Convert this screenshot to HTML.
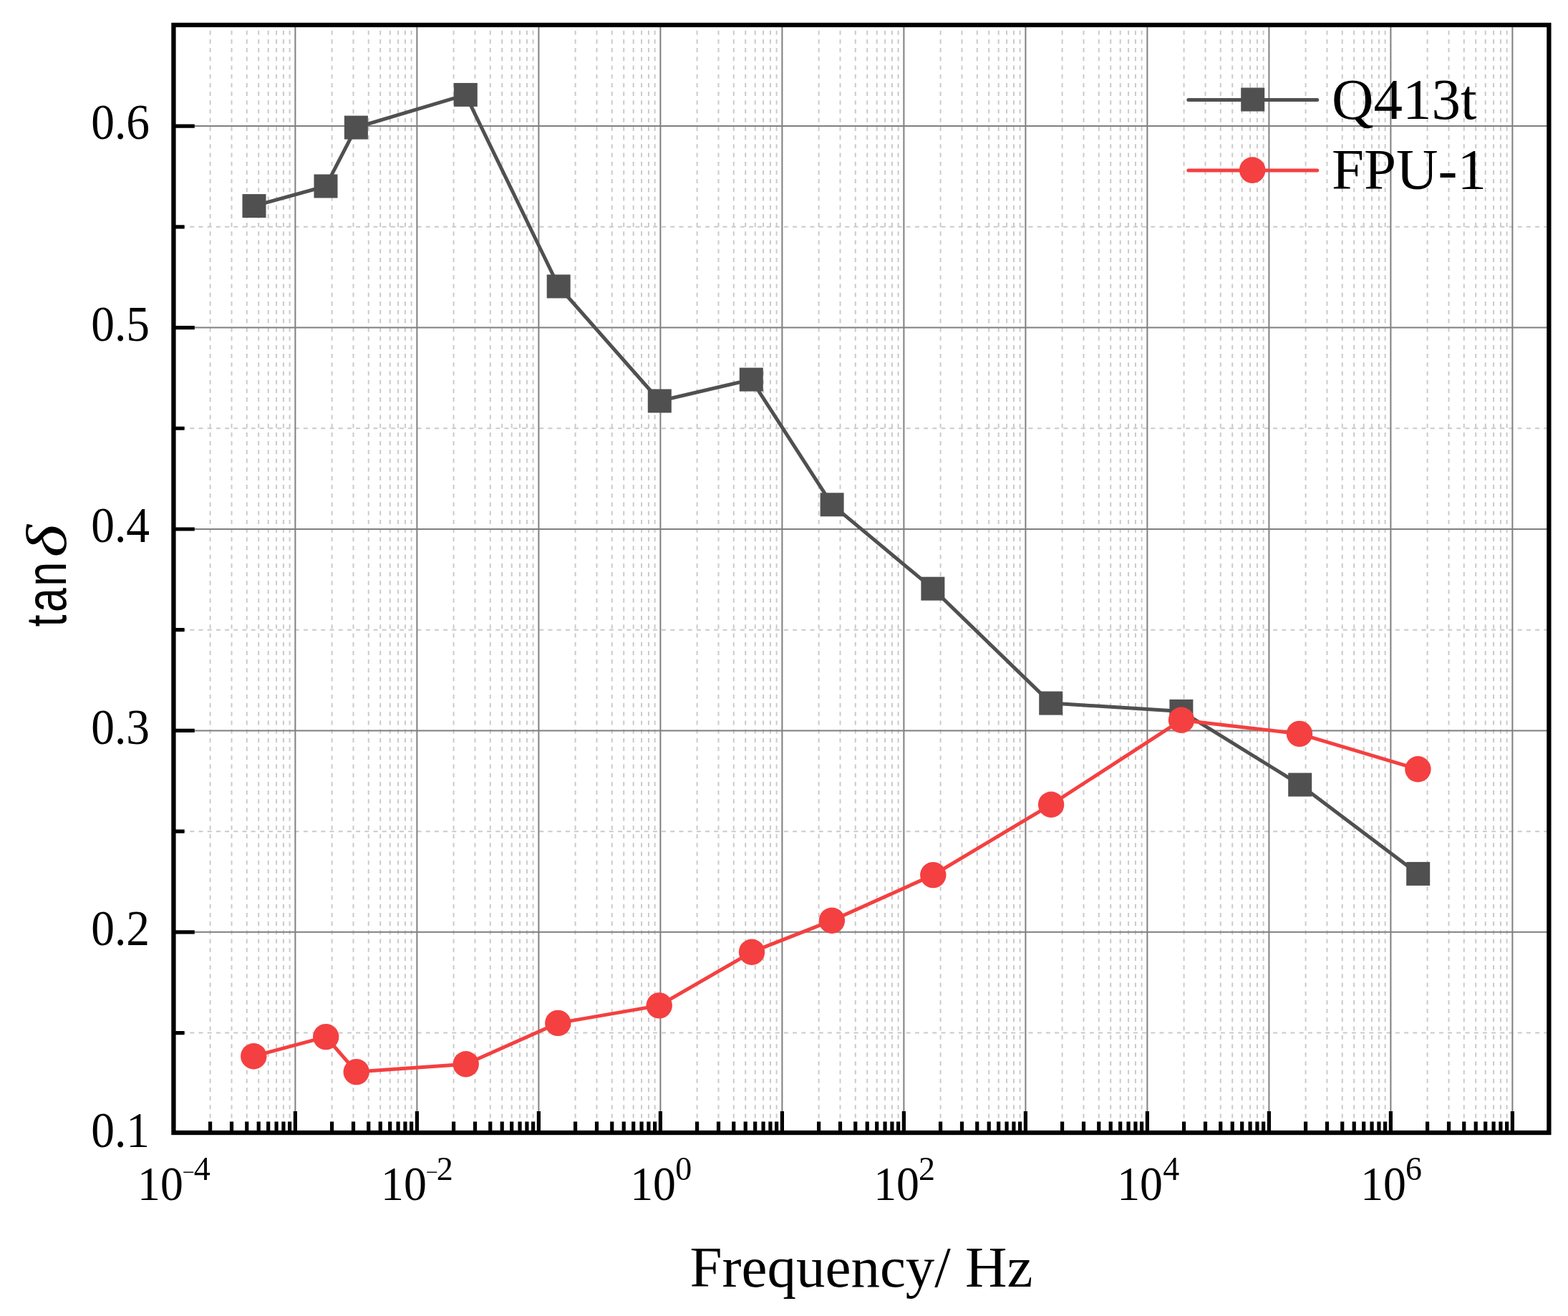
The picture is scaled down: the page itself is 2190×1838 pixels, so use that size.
<!DOCTYPE html>
<html><head><meta charset="utf-8"><title>tan delta vs frequency</title>
<style>html,body{margin:0;padding:0;background:#fff;}svg{display:block;}</style>
</head><body>
<svg width="2190" height="1838" viewBox="0 0 2190 1838">
<rect width="2190" height="1838" fill="#fff"/>
<path d="M293.58 42.7V1582.0 M323.51 42.7V1582.0 M344.75 42.7V1582.0 M361.22 42.7V1582.0 M374.69 42.7V1582.0 M386.07 42.7V1582.0 M395.93 42.7V1582.0 M404.62 42.7V1582.0 M463.58 42.7V1582.0 M493.51 42.7V1582.0 M514.75 42.7V1582.0 M531.22 42.7V1582.0 M544.69 42.7V1582.0 M556.07 42.7V1582.0 M565.93 42.7V1582.0 M574.62 42.7V1582.0 M633.58 42.7V1582.0 M663.51 42.7V1582.0 M684.75 42.7V1582.0 M701.22 42.7V1582.0 M714.69 42.7V1582.0 M726.07 42.7V1582.0 M735.93 42.7V1582.0 M744.62 42.7V1582.0 M803.58 42.7V1582.0 M833.51 42.7V1582.0 M854.75 42.7V1582.0 M871.22 42.7V1582.0 M884.69 42.7V1582.0 M896.07 42.7V1582.0 M905.93 42.7V1582.0 M914.62 42.7V1582.0 M973.58 42.7V1582.0 M1003.51 42.7V1582.0 M1024.75 42.7V1582.0 M1041.22 42.7V1582.0 M1054.69 42.7V1582.0 M1066.07 42.7V1582.0 M1075.93 42.7V1582.0 M1084.62 42.7V1582.0 M1143.58 42.7V1582.0 M1173.51 42.7V1582.0 M1194.75 42.7V1582.0 M1211.22 42.7V1582.0 M1224.69 42.7V1582.0 M1236.07 42.7V1582.0 M1245.93 42.7V1582.0 M1254.62 42.7V1582.0 M1313.58 42.7V1582.0 M1343.51 42.7V1582.0 M1364.75 42.7V1582.0 M1381.22 42.7V1582.0 M1394.69 42.7V1582.0 M1406.07 42.7V1582.0 M1415.93 42.7V1582.0 M1424.62 42.7V1582.0 M1483.58 42.7V1582.0 M1513.51 42.7V1582.0 M1534.75 42.7V1582.0 M1551.22 42.7V1582.0 M1564.69 42.7V1582.0 M1576.07 42.7V1582.0 M1585.93 42.7V1582.0 M1594.62 42.7V1582.0 M1653.58 42.7V1582.0 M1683.51 42.7V1582.0 M1704.75 42.7V1582.0 M1721.22 42.7V1582.0 M1734.69 42.7V1582.0 M1746.07 42.7V1582.0 M1755.93 42.7V1582.0 M1764.62 42.7V1582.0 M1823.58 42.7V1582.0 M1853.51 42.7V1582.0 M1874.75 42.7V1582.0 M1891.22 42.7V1582.0 M1904.69 42.7V1582.0 M1916.07 42.7V1582.0 M1925.93 42.7V1582.0 M1934.62 42.7V1582.0 M1993.58 42.7V1582.0 M2023.51 42.7V1582.0 M2044.75 42.7V1582.0 M2061.22 42.7V1582.0 M2074.69 42.7V1582.0 M2086.07 42.7V1582.0 M2095.93 42.7V1582.0 M2104.62 42.7V1582.0" stroke="#cacaca" stroke-width="2" stroke-dasharray="6 6.2" fill="none"/>
<path d="M240.9 1442.58H2163.4 M240.9 1161.14H2163.4 M240.9 879.70H2163.4 M240.9 598.26H2163.4 M240.9 316.82H2163.4" stroke="#cacaca" stroke-width="2" stroke-dasharray="6 6.2" fill="none"/>
<path d="M412.40 34.9V1582.0 M582.40 34.9V1582.0 M752.40 34.9V1582.0 M922.40 34.9V1582.0 M1092.40 34.9V1582.0 M1262.40 34.9V1582.0 M1432.40 34.9V1582.0 M1602.40 34.9V1582.0 M1772.40 34.9V1582.0 M1942.40 34.9V1582.0 M2112.40 34.9V1582.0 M242.4 1301.86H2163.4 M242.4 1020.42H2163.4 M242.4 738.98H2163.4 M242.4 457.54H2163.4 M242.4 176.10H2163.4" stroke="#7f7f7f" stroke-width="2" fill="none"/>
<rect x="242.45" y="34.9" width="1920.95" height="1547.10" fill="none" stroke="#000" stroke-width="6.3"/>
<path d="M412.40 1552V1582.0 M293.58 1566.6V1582.0 M323.51 1566.6V1582.0 M344.75 1566.6V1582.0 M361.22 1566.6V1582.0 M374.69 1566.6V1582.0 M386.07 1566.6V1582.0 M395.93 1566.6V1582.0 M404.62 1566.6V1582.0 M582.40 1552V1582.0 M463.58 1566.6V1582.0 M493.51 1566.6V1582.0 M514.75 1566.6V1582.0 M531.22 1566.6V1582.0 M544.69 1566.6V1582.0 M556.07 1566.6V1582.0 M565.93 1566.6V1582.0 M574.62 1566.6V1582.0 M752.40 1552V1582.0 M633.58 1566.6V1582.0 M663.51 1566.6V1582.0 M684.75 1566.6V1582.0 M701.22 1566.6V1582.0 M714.69 1566.6V1582.0 M726.07 1566.6V1582.0 M735.93 1566.6V1582.0 M744.62 1566.6V1582.0 M922.40 1552V1582.0 M803.58 1566.6V1582.0 M833.51 1566.6V1582.0 M854.75 1566.6V1582.0 M871.22 1566.6V1582.0 M884.69 1566.6V1582.0 M896.07 1566.6V1582.0 M905.93 1566.6V1582.0 M914.62 1566.6V1582.0 M1092.40 1552V1582.0 M973.58 1566.6V1582.0 M1003.51 1566.6V1582.0 M1024.75 1566.6V1582.0 M1041.22 1566.6V1582.0 M1054.69 1566.6V1582.0 M1066.07 1566.6V1582.0 M1075.93 1566.6V1582.0 M1084.62 1566.6V1582.0 M1262.40 1552V1582.0 M1143.58 1566.6V1582.0 M1173.51 1566.6V1582.0 M1194.75 1566.6V1582.0 M1211.22 1566.6V1582.0 M1224.69 1566.6V1582.0 M1236.07 1566.6V1582.0 M1245.93 1566.6V1582.0 M1254.62 1566.6V1582.0 M1432.40 1552V1582.0 M1313.58 1566.6V1582.0 M1343.51 1566.6V1582.0 M1364.75 1566.6V1582.0 M1381.22 1566.6V1582.0 M1394.69 1566.6V1582.0 M1406.07 1566.6V1582.0 M1415.93 1566.6V1582.0 M1424.62 1566.6V1582.0 M1602.40 1552V1582.0 M1483.58 1566.6V1582.0 M1513.51 1566.6V1582.0 M1534.75 1566.6V1582.0 M1551.22 1566.6V1582.0 M1564.69 1566.6V1582.0 M1576.07 1566.6V1582.0 M1585.93 1566.6V1582.0 M1594.62 1566.6V1582.0 M1772.40 1552V1582.0 M1653.58 1566.6V1582.0 M1683.51 1566.6V1582.0 M1704.75 1566.6V1582.0 M1721.22 1566.6V1582.0 M1734.69 1566.6V1582.0 M1746.07 1566.6V1582.0 M1755.93 1566.6V1582.0 M1764.62 1566.6V1582.0 M1942.40 1552V1582.0 M1823.58 1566.6V1582.0 M1853.51 1566.6V1582.0 M1874.75 1566.6V1582.0 M1891.22 1566.6V1582.0 M1904.69 1566.6V1582.0 M1916.07 1566.6V1582.0 M1925.93 1566.6V1582.0 M1934.62 1566.6V1582.0 M2112.40 1552V1582.0 M1993.58 1566.6V1582.0 M2023.51 1566.6V1582.0 M2044.75 1566.6V1582.0 M2061.22 1566.6V1582.0 M2074.69 1566.6V1582.0 M2086.07 1566.6V1582.0 M2095.93 1566.6V1582.0 M2104.62 1566.6V1582.0 M242.4 1301.86H271.8 M242.4 1020.42H271.8 M242.4 738.98H271.8 M242.4 457.54H271.8 M242.4 176.10H271.8 M242.4 1442.58H257.6 M242.4 1161.14H257.6 M242.4 879.70H257.6 M242.4 598.26H257.6 M242.4 316.82H257.6" stroke="#000" stroke-width="5.2" fill="none"/>
<polyline points="355,287.6 455,260 497.4,178.1 650.3,132.4 780.2,400 921.3,560 1049.3,530.1 1162.1,704.8 1302.9,822.2 1467.7,982.1 1649.9,993.4 1815.7,1096 1980.7,1220.4" fill="none" stroke="#505050" stroke-width="5" stroke-linejoin="round"/>
<g fill="#505050"><rect x="338.5" y="271.1" width="33" height="33"/><rect x="438.5" y="243.5" width="33" height="33"/><rect x="480.9" y="161.6" width="33" height="33"/><rect x="633.8" y="115.9" width="33" height="33"/><rect x="763.7" y="383.5" width="33" height="33"/><rect x="904.8" y="543.5" width="33" height="33"/><rect x="1032.8" y="513.6" width="33" height="33"/><rect x="1145.6" y="688.3" width="33" height="33"/><rect x="1286.4" y="805.7" width="33" height="33"/><rect x="1451.2" y="965.6" width="33" height="33"/><rect x="1633.4" y="976.9" width="33" height="33"/><rect x="1799.2" y="1079.5" width="33" height="33"/><rect x="1964.2" y="1203.9" width="33" height="33"/></g>
<polyline points="354.3,1475.2 455.2,1448.1 497.7,1497.1 650.7,1486.2 779.3,1428.9 920.7,1404.4 1050,1329.7 1161.9,1285.7 1303.3,1222.1 1468.1,1123.7 1650,1005.7 1815,1024.9 1980.4,1074.3" fill="none" stroke="#f44040" stroke-width="5" stroke-linejoin="round"/>
<g fill="#f44040"><circle cx="354.3" cy="1475.2" r="18.2"/><circle cx="455.2" cy="1448.1" r="18.2"/><circle cx="497.7" cy="1497.1" r="18.2"/><circle cx="650.7" cy="1486.2" r="18.2"/><circle cx="779.3" cy="1428.9" r="18.2"/><circle cx="920.7" cy="1404.4" r="18.2"/><circle cx="1050" cy="1329.7" r="18.2"/><circle cx="1161.9" cy="1285.7" r="18.2"/><circle cx="1303.3" cy="1222.1" r="18.2"/><circle cx="1468.1" cy="1123.7" r="18.2"/><circle cx="1650" cy="1005.7" r="18.2"/><circle cx="1815" cy="1024.9" r="18.2"/><circle cx="1980.4" cy="1074.3" r="18.2"/></g>
<path d="M1659.8 139.5H1839.7" stroke="#505050" stroke-width="5" stroke-linecap="round"/>
<rect x="1733.2" y="122.5" width="33" height="33" fill="#505050"/>
<path d="M1659.8 238H1839.7" stroke="#f44040" stroke-width="5" stroke-linecap="round"/>
<circle cx="1749.2" cy="237.6" r="18.3" fill="#f44040"/>
<g style="font-family:'Liberation Serif','Times New Roman',serif" fill="#000">
<text x="1860" y="165.6" font-size="81">Q413t</text>
<text x="1860" y="264.4" font-size="81">FPU-1</text>
<text x="1203" y="1797" font-size="81" text-anchor="middle">Frequency/ Hz</text>
<text transform="translate(127.2,1601.5) scale(0.95,1)" font-size="69">0.1</text>
<text transform="translate(127.2,1320.1) scale(0.95,1)" font-size="69">0.2</text>
<text transform="translate(127.2,1038.6) scale(0.95,1)" font-size="69">0.3</text>
<text transform="translate(127.2,757.2) scale(0.95,1)" font-size="69">0.4</text>
<text transform="translate(127.2,475.7) scale(0.95,1)" font-size="69">0.5</text>
<text transform="translate(127.2,194.3) scale(0.95,1)" font-size="69">0.6</text>
<text transform="translate(191.98,1675.7) scale(0.929,1)" font-size="68.7">10</text>
<text x="254.90" y="1646.5" font-size="30">&#8722;</text>
<text x="270.78" y="1648.3" font-size="46">4</text>
<text transform="translate(531.98,1675.7) scale(0.929,1)" font-size="68.7">10</text>
<text x="594.90" y="1646.5" font-size="30">&#8722;</text>
<text x="609.68" y="1648.3" font-size="46">2</text>
<text transform="translate(880.18,1675.7) scale(0.929,1)" font-size="68.7">10</text>
<text x="943.35" y="1648.3" font-size="46">0</text>
<text transform="translate(1220.18,1675.7) scale(0.929,1)" font-size="68.7">10</text>
<text x="1283.08" y="1648.3" font-size="46">2</text>
<text transform="translate(1560.18,1675.7) scale(0.929,1)" font-size="68.7">10</text>
<text x="1624.18" y="1648.3" font-size="46">4</text>
<text transform="translate(1900.18,1675.7) scale(0.929,1)" font-size="68.7">10</text>
<text x="1963.12" y="1648.3" font-size="46">6</text>
</g>
<g transform="translate(92.3,874.5) rotate(-90)" fill="#000">
<text style="font-family:'Liberation Sans',Arial,sans-serif" font-size="79" transform="translate(-0.91,0) scale(0.77,1)">t</text>
<text style="font-family:'Liberation Sans',Arial,sans-serif" font-size="79" transform="translate(19.45,0) scale(0.77,1)">a</text>
<text style="font-family:'Liberation Sans',Arial,sans-serif" font-size="79" transform="translate(55.79,0) scale(0.77,1)">n</text>
<text style="font-family:'Liberation Serif','Times New Roman',serif" font-style="italic" font-size="81" transform="translate(96.28,0) scale(1.2,1)">&#948;</text>
</g>
</svg>
</body></html>
